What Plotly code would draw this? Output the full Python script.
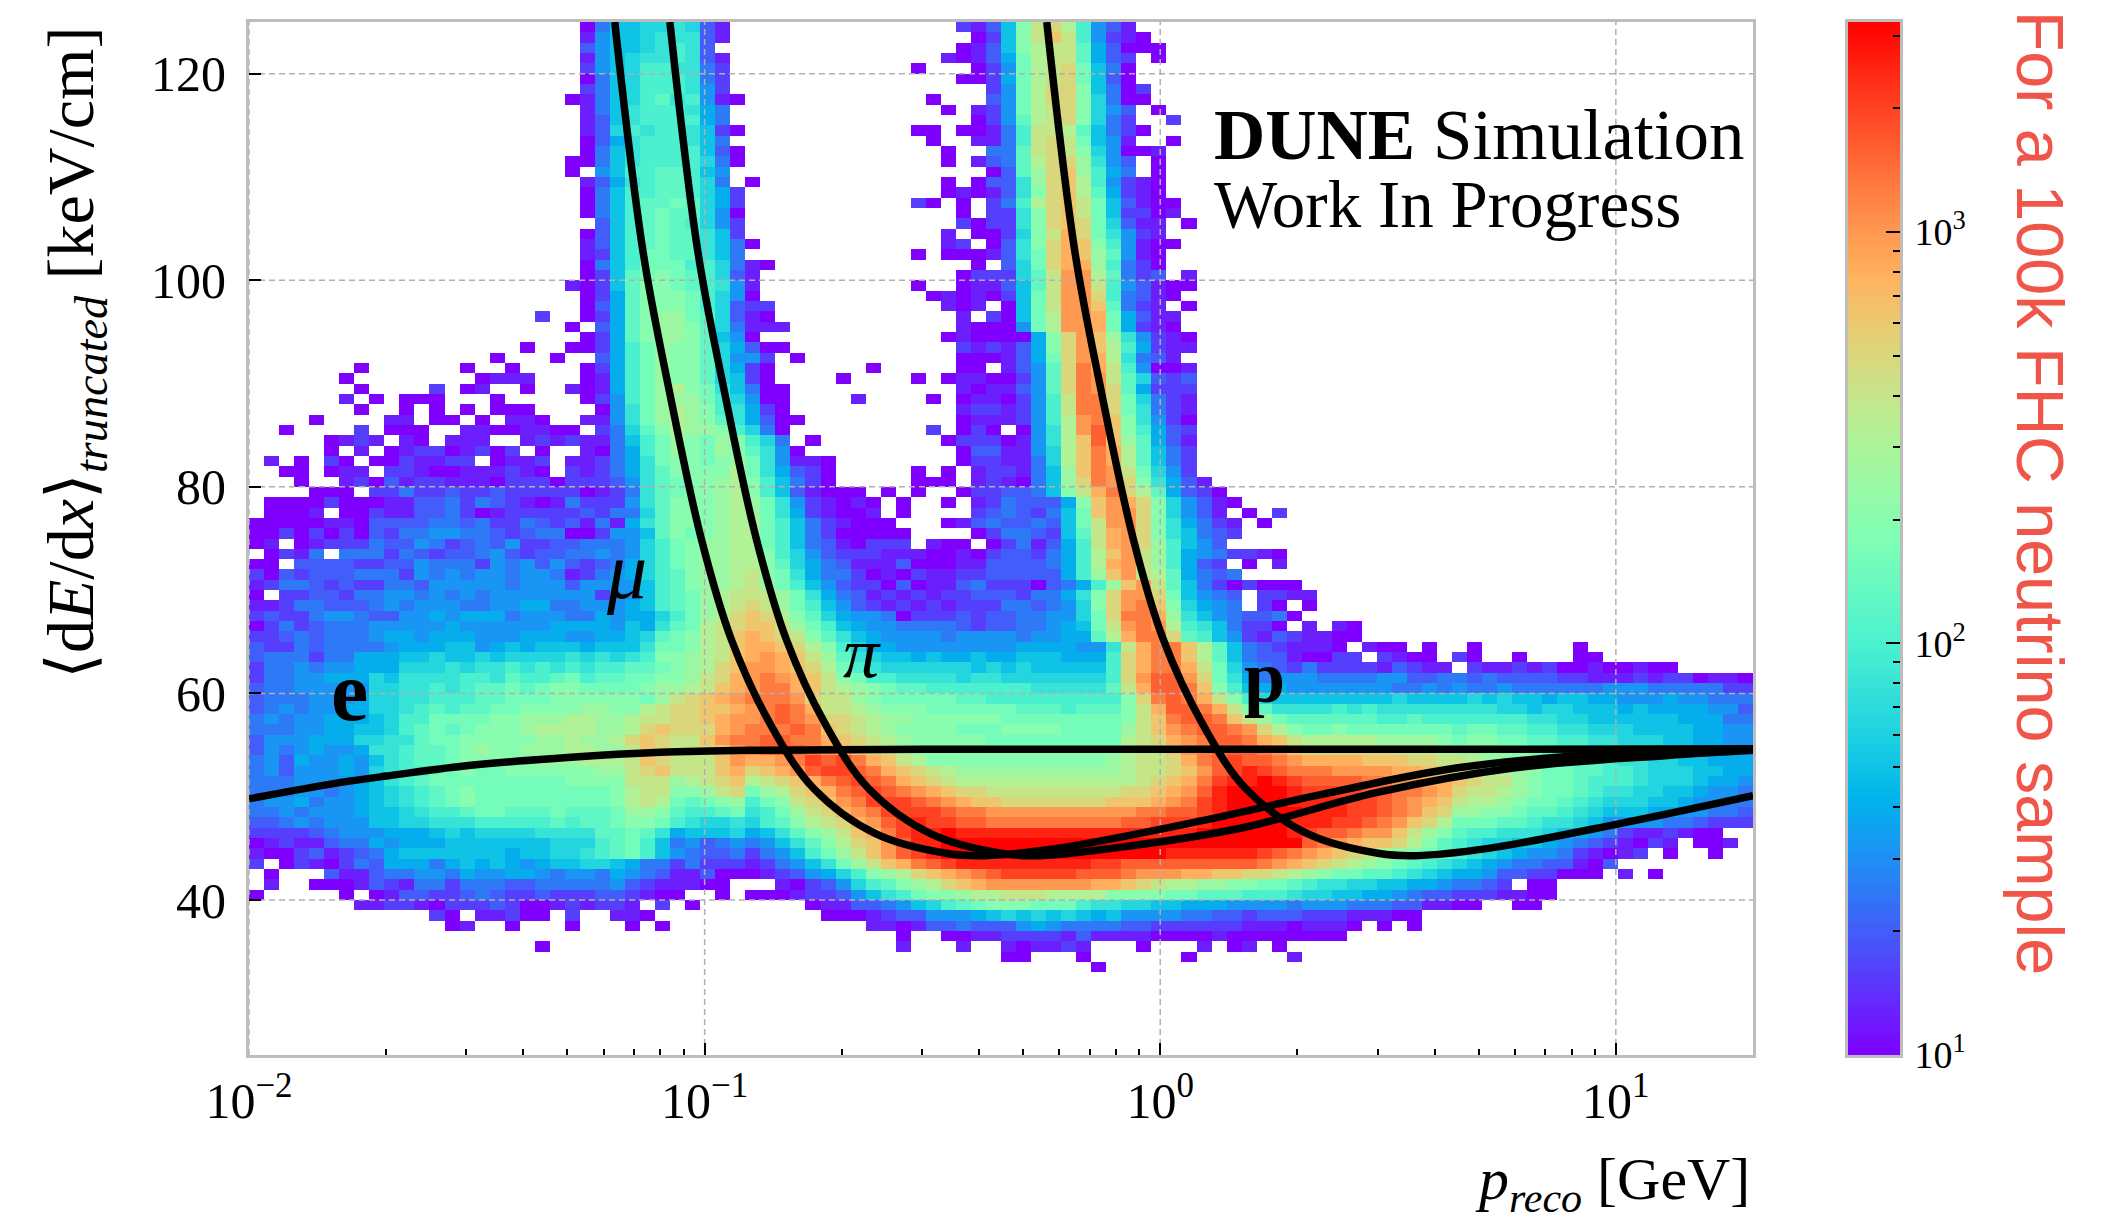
import numpy as np
import plotly.graph_objects as go

# Cell levels, top row (y 124-125) first. Each letter is a log10(count) level:
# a=1.0, b=1.1, ... k=2.0, ... u=3.0, ... z=3.5; "." is an empty cell; "_" is ten empty cells.
cell_rows = [
"_ _ ..aehhiiji db........ .......cbd hnqrpkfdb.",
"_ _ ..bfhhijjj db........ ........ac hnqsqkfcba",
"_ _ ..dfhhijkj d......... .......abd hnpqqlgdaa a.........",
"_ _ ..bfhijjkj db........ ......babd gmpqqlgdc. a.........",
"_ _ ..cfhikkjj ec........ ....a...ac fmpqrmhea.",
"_ _ ..aehikkkj ec........ .......aac gmpqrmhda.",
"_ _ ..cehikkkj fc........ .........c fmprrnheac",
"_ _ .abehikljk fba....... .....a...d fmprrnieaa",
"_ _ ..behjkkkj ge........ ......a.bc fmpqrnifd. a.........",
"_ _ ..bdhjkkkk ge........ ........ac flpqrniec. .c........",
"_ _ ..bdikjkkj hca....... ....aa.aab ekqqplheca",
"_ _ ..adgjkkkj he........ .....a..bb ekqrqmhfb. .a........",
"_ _ ..aehjkkkk hda....... ......a..e elqrqnifaa b.........",
"_ _ .aaehjkkkk iea....... ......a.bd elprrojfd. a.........",
"_ _ .a.fhkkllk hf........ .........a dlorsokge. a.........",
"_ _ ..bdgjkllk ie.a...... ......a.ad djorspkfcb a.........",
"_ _ ..aehkkllk igc....... ......abab djnrsplgcb a.........",
"_ _ ..aehkllml igc....... ....ca.a.c ekprsqmhdb aa........",
"_ _ ..aehklmll ifa....... .......a.c cjnrsqmhcc ab........",
"_ _ ...dhklmlk ifc....... .......cac cjnrsrmidb b.a.......",
"_ _ ..adhklmll jhc....... ......b.aa cinqtrmjfc b.........",
"_ _ ..bdhklmll jhea...... ......bc.a djnrtsnkfb aa........",
"_ _ ..bchkmmll jhe....... ....a.aaab djmrtsolfb a.........",
"_ _ ..aehkmmmk kieba..... ........a. dimrttokec a.........",
"_ _ ..achlmnml kidb...... .......acc cilquuplec d.b.......",
"_ _ .bachlnnml kjfb...... ....a..abb dhlquuqkfd baa.......",
"_ _ ..acglnnnm kifa...... .....ababa chmquurked ba........",
"_ _ ..adglnnnm kidcc..... ......bab. ahmquuslec b.a.......",
"_ .........c ..acglnoom lidba..... .......b.c ahmpuutmgd bb........",
"_ _ .a.dglnoon liebbb.... .......baa afmpuutmgc ba........",
"_ _ ..acglnoon lhfa...... ......abaa aagnrusojf cba.......",
"_ ........a. .aacgkmonn ligdaa.... .......cbc bdgnruspkg cbb.......",
"_ ......a... a..dgkmonn liffc.a... .......aaa bdgmrutpje db........",
".......a.. ....a..a.. ..acgkmonn ligca..... .a.....aa. bdflrvtqkf aab.......",
"......a... .....abbb. ..abgkmonn lihca....a ....a.abba acflrvuqli dcd.......",
".......a.. ..c.ab..a. .babgkmopn mjheaa.... .......bab bdflrvurlg ccc.......",
"......b.a. aaa...a... ..acfkmooo mkifaa.... b....a.abb acfkqvvrmi ecb.......",
".......a.. a.a.a.aaa. ...afjmopo nkjgca.... .......bcc bcfkqvvrmj ecb.......",
"....a....b b.aa.a.bba ..bbfjmopo nljgdaa... .......abb bcfkpuvsnj fca.......",
"..a....c.a aa..bbaabb aa.ceilnpo onkiea.... .....c.aca .afjpuwsnk gdc.......",
".....abcb. ba.bbb..bc bcbbehkmon monkie.a.. ......accc abfjpswsol gdb.......",
".....a.b.a bccabcac.a ..baegkmon monljfa... .......add bbfipsvtpl hec.......",
".b.a.ca.aa cbbcc.abbc .bbcegjmnn mnomjfbba. .......acc bbeipsvtpl hec.......",
"..aa.abb.c cbaabbbcba .cbcegjlnn nnpmjgdca. ....a.a.bc cbehosvuqm ifc.......",
"...a..bcad bccbbbaccc acccdfjlmn nopnkheca. ....aaa.bc baehorvurn jgdb......",
"....aaa.cc eccdccdccc ccabcejlmn nopnkhdbaa a.a.a..acc ddehnqtvrp lgdca.....",
".aaaacaaab bddecedcba becccfjlnn nopomjfcba ba.a..a.bc edddgnsutr nifdba....",
".aaab.aacb bddecabccc ccdceeilnn nopomjgcba ab.a....cd edcehmsuur nifdb.a.c.",
"aaaaabbadd ddeedecced cdbebgjlnn noppmkhecb aaa...abde ddedhmquur njgecb.a..",
"aacacacadc eeffeedcde eaacffhlnm noppmkheca aaaa....ac eedchlqtur njhedc....",
"ab.abccced dfecdedfcc ddeeefikmn ooppmkhedb accc.baa.a cebdgkqtur okhfd.....",
".acbe.eeec edcddefdcd deefefikmn ooppnkifdc ccbbbaabac ddcegkpsuq okgfeccba.",
"aa.ddddccd dfeeecfefd fdcdegikmn ooppnliged bbbdaaabbd dddegkptuq okgdc.a.b.",
"cadcdddeee cfefeffeff ebcefgikln oopqnmjgee cabacbbccd ddddgkosuq plgede....",
"bceedcdcce edfffffeff fdffffhkln oopqomkhfd ccadabbdec ccadegkosu qlhecacaaa",
"a.ccddceef fefefeffff fffcffhklm opqqqomjge dbcbcbccdd dceegjnruu rmhfed.ccb b.........",
"bbceedddef efffeeffgg eefffghklm opqrqomkhf dcbcbcbccc eedefinruv snigfe.ca. a.........",
"cdcceffedd ffgfgggeff feegfggikm oprsrpnlig ffeacccdcd deeffimrvv tojhfeddea",
"acecdeeeff fffgffffff ggggfhgjlm pqrssqomkh gffeeeedcd deefghmquv upkjhecca. b.ba......",
"ccdedeeefg gfgggfffgg gffgghilmn pqstsrqnlj hgffffefff feffgglptv vrlkhfcbdc bbaa......",
"dccedeeeef ggghhfghgh hhghhhjmmn pqsttsrpnk iggfffffff fggggffjqt vvsplhedcb bba.baa.a. .a......a.",
"deeeceeggg hhihhihiii ijijijknno pqstutsqol jihhghgghg ghhhgggkrt vvsplheddb aacc.cbaa. ca..a...aa",
"ceefeffggg iiijijjkjk jkjkkllmno prsuutsrpm kjiiiiiihi hihhhhhkrt vvtqmifedc eccccbdcbb .cbbcbcaab aabaa.....",
"ceeffgggih jjjjkkjlkk lmkllmmnno qrtuvutsqn mkkjjjjijj iiiiiiikru wwurmjgeff feeeeffdde ededdddccb bbcbccabba",
"deefffffii jjkjkllmlm nnmmmmnoop qstuvvtsqp onmllkkkkk kkjjjjjlqt wwvsnkhggf ffffffeefe feefeeeeee fffeeeeecc",
"deeefffgii jjkkkllmmm nnnnnnmoqr stuvvvurqq onmmmmmllk kkkkkkkknr vwvtqnkihh hhhhhhihhh hihihhghhg gfffgffeee",
"defeffggii jklkllmmnn nnoonnpqrr sstuvwvtqq ponnnmmmmm mlllklllnq twwvtqnljj jjkjkjjjjj jjjiihiihh hghggggffd",
"efeffggghi kkmmmmnnoo oppoopqqrr stuuvwvurr qpoonnnnnn mmmmmmmmnq svwwvsqoml lllllkklkk kkkkkjjiih hhhhhgggee",
"eeeffgghhi klmlmnnnop pppooprsrr rtuvvvwvsr qponnnnmmm nnnnmmmmoq suvwwvurpn mmnmmmmmmm lmmllkkjji iihhhhggff",
"dfffgggiij jlmmnnnnno opooprsrqq suvvwwvvts rqponnnnnm mmmmmmmmpq rtuvwwvtsq pppppoooon mnnmmllkkj jiiihhggff",
"dfefgffgjj kllmnonnoo oppooqsrqq rsuvwwwvut srqpnnnnnn nnnnnnnnpq qsuvwwwvus rrrrrrqqqp oonnnmlllk kjjiihhggf",
"efdgffgfhj kllmnnnnno oopppqsrqq qsuttuvxwx vtsqpnnnnn nnnnnnnopq qrtvwxwwvu ttttsssrrq qpoonnmmll kjjiihhggg",
"efdfffgfij kkmmnmmnnn nnnooqrsqq qstrstuwxx wvtsrqpooo oooooooopq qrsuwxyxwv vvuuuuttss rqpponmmll kkjiiihhgg",
"eeeffffghj klmmmmmmmm mnnnnqqqop qrspqrstvw xwvtsrqppp pppppppppq rstvxyyzyx wwwwvvuutt srqqonmmlk kkjiiihggf",
"eeeffefghi jklmnmmmmm mmmmnpqqnn oqrmoprstv wxwvutsrrq qqqqqqqqrr stuwyzzzzy xxxxwwvvut rqqponmmlk jjiihhgffe",
"effgeffghi jklmnmmmmm mmmmnpqpml mnokmnqrsu vxxxwvutss rrrrrrrsss tuvxyzzzzy yyyxxwvuts qpponmmlkj iiihhgffee",
"eefefffghh ijkklmmlll mlllmoonlk klmjkmoqrt uvxxxxwvvu uuuuuuuuuv vwwxyzzzzz yyyxxwvusr oonnmllkji hhhggffeed",
"ddefefffhh iijjjkkkkk lkllmnnmkj iijiklnpqr tuwxyxxwwv vvvvvvvvww xxxyzzzzzy yyxxwvusrp mmmllkjjih ffffeedccc",
"ccccdefffg gghihiiiij jjjllmljgh hhighjlnoq stvxyyzyyy yyyyyyyyyy yyyzzzzzzy xwwvuusqon lkkjjjihgf ecbbcbaa..",
"abcbbdeegf ggghhhhhhh iiiklmkhef defefhjlnp rsuwyyzzzz zzzzzzzzzz zzzzzzzzzz wvutssrpnl kjiihhgfed cbacb.aab.",
"baacdbcdeg hhhhhhhghh iijklmkhfe ddecefhkmo qsuwxyzzzz zzzzzzzzzz zyyyyyyxwv utsrqponml kjihgffecb abc.a..a..",
"c.acbacedg ggeghghgfg hhiihgeece cccbcefhjm oqstvwxyyy yyyyyyxxww wwwwwwwvut srqponmlkj ihgfeeddba d.........",
".a...dbbde effegffggf effegfedbb daaabcdfgi knoprstuvw xxxxxwwwvu uuttssrrqp onmmllkjih ggfddccaaa .b.a......",
".b..aaabdc beeceeedde eeeefdcbbb aa...bacdf iklnoprstu uuuuuuttsr qppoonnmml kjjiihhggf eedc.aa...",
"a.....a.ab ddccdedccd cccddcbaa. .a.aaabccd fhjkmnnopp qqqppppnnn nmmlllkkkj iihhggfedd cccbbaa...",
".......bbc cbacccdcaa bcbccb.c.a .......abb ddefhiklmn nnmmmkjjii hhgggffffe fffeeeddbb aa..aa....",
"_ ..ca.bbcaa .c..bba... ........aa abcddfffgh ihihihghff ffeeddcddd cccbbbaa..",
"_ ...ab..a.. .a...a.a.. _ .bbabddedd dfgfeeeedd ccccccbbba bbba.a.a..",
"_ _ _ _ ...a..aabb ccccbdbbbb aaaabaaaaa aaa.......",
"_ .........a _ _ ...b...b.. babbcb...a ...b.ab.a.",
"_ _ _ _ _ aa...a.... ..a......b",
"_ _ _ _ _ ......a...",
]

x_edges = np.logspace(-2, np.log10(20), 101)
y_edges = np.arange(25, 126)

p_electron = [0.01,0.015,0.02,0.03,0.05,0.08,0.13,0.3,1,5,20]
y_electron = [49.8,51.2,52.0,53.0,53.8,54.3,54.5,54.6,54.6,54.6,54.65]
p_muon = [.0635,.0733,.084,.0983,.1143,.1395,.1735,.2378,.3415,.41,.592,1.15,2.25,4.5,10,20]
y_muon = [125,102.7,88.9,75,65.3,57,50.8,46.4,44.5,44.3,45,47.4,50.2,52.8,54.2,54.6]
p_pion = [.0839,.0967,.1109,.1298,.1509,.1842,.229,.314,.4509,.5416,.781,1.518,2.98,6,13,20]
y_pion = [125,102.7,88.9,75,65.3,57,50.8,46.4,44.5,44.3,45,47,50.4,52.8,54,54.5]
p_proton = [.5636,.65,.745,.872,1.014,1.24,1.54,2.11,3.03,3.64,5.25,10.2,20]
y_proton = [125,102.7,88.9,75,65.3,57,50.8,46.4,44.5,44.3,45,47.4,50.1]

x_ticks = [0.01,0.1,1,10]
x_labels = ["10<sup>−2</sup>","10<sup>−1</sup>","10<sup>0</sup>","10<sup>1</sup>"]
x_minor = [m*d for d in (0.01,0.1,1,10) for m in range(2,10)]
y_ticks = [40,60,80,100,120]
cb_ticks = [10,100,1000]
cb_labels = ["10<sup>1</sup>","10<sup>2</sup>","10<sup>3</sup>"]
cb_minor = [20,30,40,50,60,70,80,90,200,300,400,500,600,700,800,900,2000,3000]
cb_top = 3.51

OFF = 8                     # browser body margin
L,R,T,B = 249-OFF,1753-OFF,19-OFF,1055-OFF
CR = 1900-OFF
W = CR-L
def px(v): return (v-OFF-L)/W
def py(v): return 1-(v-OFF-T)/(B-T)

def row(r):
    return "".join(("."*10 if g=="_" else g.ljust(10,".")[:10]) for g in r.split()).ljust(100,".")
z = [[None if c=="." else 1+0.1*(ord(c)-97) for c in row(r)] for r in cell_rows]
z += [[None]*100 for _ in range(100-len(z))]
z = z[::-1]

scale = [[0,"#7f00ff"],[0.1,"#4c4ffb"],[0.2,"#1996f3"],[0.25,"#00b4eb"],[0.3,"#19cee3"],[0.4,"#4cf2ce"],[0.5,"#7fffb4"],[0.6,"#b2f296"],[0.7,"#e6ce74"],[0.75,"#ffb360"],[0.8,"#ff964f"],[0.9,"#ff4f28"],[1,"#ff0000"]]

fig = go.Figure()
fig.add_trace(go.Heatmap(z=z,x=x_edges,y=y_edges,zmin=1,zmax=cb_top,colorscale=scale,hoverongaps=False,showscale=False,xaxis="x",yaxis="y"))

gx=[];gy=[]
for t in x_ticks: gx+=[t,t,None]; gy+=[25,125,None]
for t in y_ticks: gx+=[0.01,20,None]; gy+=[t,t,None]
fig.add_trace(go.Scatter(x=gx,y=gy,mode="lines",line=dict(color="#b0b0b0",width=1.5,dash="6px,4px"),hoverinfo="skip",showlegend=False,xaxis="x",yaxis="y"))
for nm,a,b in [("e",p_electron,y_electron),("mu",p_muon,y_muon),("pi",p_pion,y_pion),("p",p_proton,y_proton)]:
    fig.add_trace(go.Scatter(x=a,y=b,name=nm,mode="lines",line=dict(color="black",width=7.5,shape="spline",smoothing=1),showlegend=False,xaxis="x",yaxis="y"))

# colour bar drawn on its own log axis; an overlaid axis carries only the minor ticks
cb_lv = np.linspace(1,cb_top,257)
fig.add_trace(go.Heatmap(z=[[float(v)] for v in (cb_lv[:-1]+cb_lv[1:])/2],x=[0,1],y=10**cb_lv,zmin=1,zmax=cb_top,colorscale=scale,showscale=False,hoverinfo="skip",xaxis="x2",yaxis="y2"))
fig.add_trace(go.Scatter(x=[None],y=[None],mode="lines",hoverinfo="skip",showlegend=False,xaxis="x2",yaxis="y3"))

line = dict(showline=True,linecolor="#bdbdbd",linewidth=3,mirror=True,showgrid=False,zeroline=False)
fig.update_layout(
    xaxis=dict(domain=[0,(R-L)/W],type="log",range=[-2,float(np.log10(20))],tickmode="array",tickvals=x_ticks,ticktext=x_labels,ticks="inside",ticklen=12,tickwidth=2,tickcolor="black",
        tickfont=dict(family="Liberation Serif",size=50,color="black"),anchor="y",
        minor=dict(ticks="inside",ticklen=6,tickwidth=1.5,tickcolor="black",tickmode="array",tickvals=x_minor,showgrid=False),**line),
    yaxis=dict(domain=[0,1],range=[25,125],tickmode="array",tickvals=y_ticks,ticks="inside",ticklen=12,tickwidth=2,tickcolor="black",ticklabelstandoff=10,
        tickfont=dict(family="Liberation Serif",size=50,color="black"),anchor="x",**line),
    xaxis2=dict(domain=[px(1848),1],range=[0,1],showticklabels=False,ticks="",anchor="y2",**line),
    yaxis2=dict(domain=[0,1],type="log",range=[1,cb_top],side="right",anchor="x2",tickmode="array",tickvals=cb_ticks,ticktext=cb_labels,ticks="inside",ticklen=14,tickwidth=2,tickcolor="black",
        ticklabelstandoff=4,tickfont=dict(family="Liberation Serif",size=38,color="black"),**line),
    yaxis3=dict(overlaying="y2",type="log",range=[1,cb_top],side="right",anchor="x2",tickmode="array",tickvals=cb_minor,ticks="inside",ticklen=7,tickwidth=1.5,tickcolor="black",
        showticklabels=False,showline=False,showgrid=False,zeroline=False),
    width=2120-OFF,height=1220-OFF,margin=dict(l=L,r=2120-OFF-CR,t=T,b=1220-OFF-B,pad=0),
    plot_bgcolor="white",paper_bgcolor="white",showlegend=False)

def note(text,xp,yp,size,anchor="center",angle=0,family="Liberation Serif",color="black"):
    fig.add_annotation(text=text,xref="paper",yref="paper",x=px(xp),y=py(yp),xanchor=anchor,yanchor="middle",showarrow=False,textangle=angle,font=dict(family=family,size=size,color=color))
note("<b>DUNE</b> Simulation",1212,132,71,"left")
note("Work In Progress",1212,202,67,"left")
note("<b>e</b>",349,690,84)
note("<i>μ</i>",626,570,80)
note("<i>π</i>",862,652,72)
note("<b>p</b>",1264,676,74)
note("<i>p<sub>reco</sub></i> [GeV]",1752,1184,60,"right")
fig.add_annotation(text="⟨d<i>E</i>/d<i>x</i>⟩<sub><i>truncated</i></sub> [keV/cm]",xref="paper",yref="paper",x=px(76),y=py(22),xanchor="center",yanchor="top",showarrow=False,textangle=-90,font=dict(family="Liberation Serif",size=66,color="black"))
note("For a 100k FHC neutrino sample",2040,491,66.5,"center",90,"Liberation Sans","#ef5548")
fig.write_html("out.html")
